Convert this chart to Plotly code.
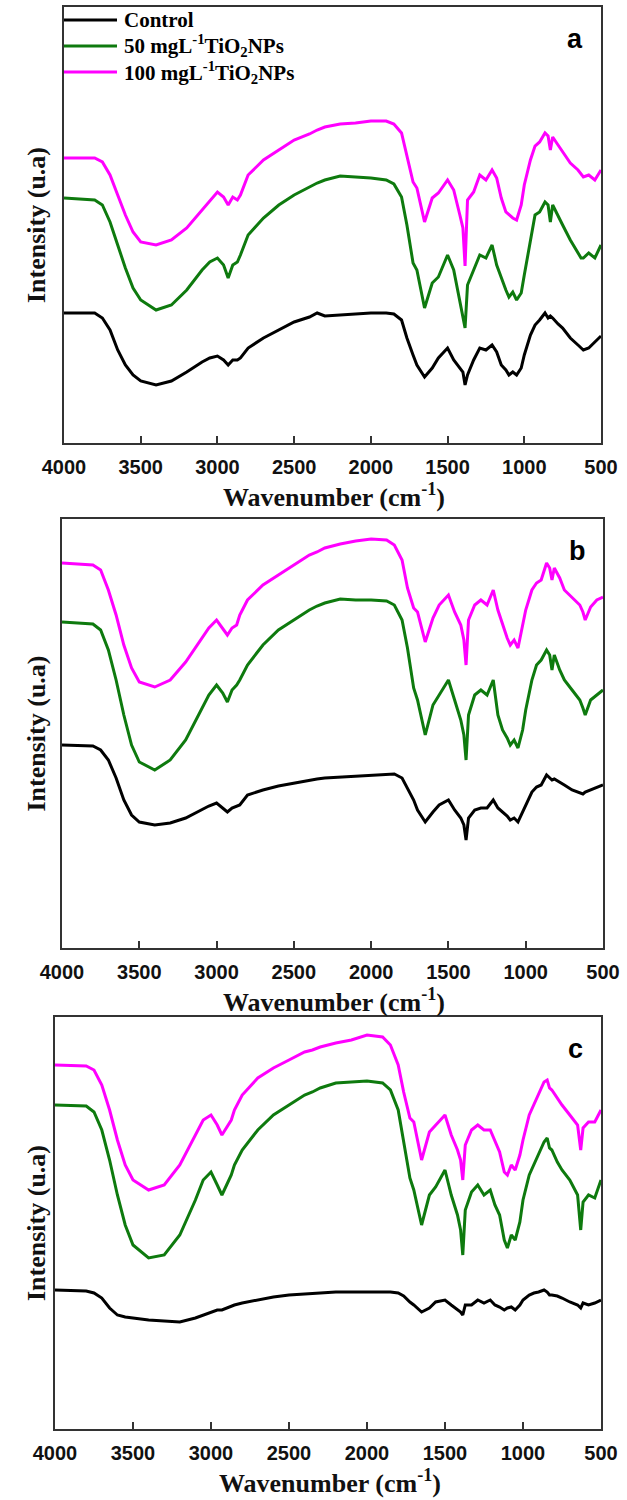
import plotly.graph_objects as go

# ---------------- data (wavenumber grid shared by all spectra) ----------------
wavenumber = [4000, 3800, 3750, 3700, 3650, 3600, 3550, 3500, 3400, 3300,
              3200, 3100, 3050, 3000, 2960, 2930, 2900, 2870, 2850, 2800,
              2700, 2600, 2500, 2400, 2350, 2300, 2200, 2100, 2000, 1900,
              1850, 1800, 1765, 1725, 1700, 1650, 1600, 1560, 1500, 1460,
              1420, 1400, 1386, 1370, 1330, 1290, 1250, 1210, 1180, 1150,
              1120, 1100, 1075, 1050, 1020, 1000, 960, 930, 900, 865,
              845, 830, 815, 780, 750, 700, 650, 630, 615, 580,
              540, 500]

# panel a
a_100 = [285, 285, 281, 268, 248, 228, 211, 201, 198, 203,
         215, 233, 243, 251, 246, 238, 246, 243, 248, 268,
         283, 293, 303, 309, 313, 316, 319, 320, 322, 322,
         319, 310, 288, 261, 255, 221, 245, 250, 263, 253,
         228, 215, 177, 243, 251, 268, 263, 273, 265, 245,
         231, 228, 225, 223, 238, 258, 283, 297, 301, 310,
         307, 293, 306, 298, 291, 280, 273, 269, 266, 268,
         263, 273]
a_50 = [245, 243, 238, 221, 198, 175, 155, 143, 133, 138,
        153, 173, 181, 185, 178, 165, 178, 181, 188, 208,
        225, 238, 248, 256, 260, 263, 267, 266, 265, 263,
        259, 246, 218, 180, 173, 135, 160, 166, 188, 173,
        143, 128, 115, 158, 173, 188, 185, 198, 178, 165,
        153, 146, 151, 143, 150, 168, 203, 228, 231, 241,
        238, 221, 238, 228, 218, 203, 191, 185, 185, 190,
        185, 198]
a_control = [130, 130, 125, 113, 93, 78, 68, 62, 58, 62,
             71, 81, 85, 87, 83, 78, 83, 83, 85, 95,
             105, 113, 121, 126, 130, 127, 128, 129, 130, 130,
             129, 123, 105, 88, 78, 66, 75, 85, 95, 83,
             75, 71, 58, 68, 83, 95, 93, 98, 91, 78,
             73, 68, 71, 68, 75, 88, 108, 118, 123, 130,
             125, 127, 125, 119, 115, 105, 98, 95, 93, 95,
             101, 107]

# panel b
b_100 = [385, 383, 378, 358, 333, 303, 280, 266, 261, 268,
         286, 308, 320, 328, 320, 313, 320, 323, 333, 348,
         363, 373, 383, 393, 396, 400, 404, 407, 409, 408,
         403, 388, 360, 340, 336, 306, 330, 343, 353, 336,
         323, 308, 283, 328, 343, 348, 343, 358, 338, 323,
         310, 303, 308, 300, 323, 338, 358, 365, 368, 385,
         380, 368, 380, 370, 358, 350, 343, 336, 328, 341,
         348, 351]
b_50 = [326, 324, 318, 298, 268, 233, 203, 186, 178, 188,
        208, 238, 253, 263, 255, 246, 258, 263, 268, 283,
        303, 318, 328, 338, 342, 345, 349, 348, 348, 347,
        343, 328, 300, 260, 248, 213, 243, 253, 268, 248,
        228, 213, 188, 233, 253, 258, 253, 268, 233, 218,
        210, 203, 208, 200, 218, 238, 268, 283, 288, 298,
        293, 278, 293, 278, 268, 258, 248, 240, 233, 248,
        253, 258]
b_control = [203, 202, 198, 188, 170, 148, 133, 126, 123, 125,
             130, 138, 142, 145, 140, 136, 140, 142, 143, 153,
             158, 162, 165, 168, 169, 170, 171, 172, 173, 174,
             174, 170, 160, 148, 138, 126, 136, 143, 148, 138,
             130, 123, 108, 130, 138, 140, 140, 148, 140, 136,
             132, 128, 130, 126, 136, 143, 156, 161, 163, 173,
             170, 168, 169, 166, 163, 158, 155, 154, 156, 158,
             160, 163]

# panel c
c_100 = [364, 363, 359, 344, 319, 289, 264, 249, 239, 244,
         264, 294, 309, 314, 304, 294, 301, 309, 319, 334,
         351, 361, 369, 377, 379, 382, 386, 389, 394, 392,
         384, 364, 337, 311, 307, 269, 297, 304, 314, 294,
         279, 269, 249, 284, 299, 304, 299, 299, 287, 277,
         257, 254, 264, 259, 274, 289, 314, 324, 334, 347,
         349, 341, 339, 331, 324, 314, 304, 279, 301, 307,
         307, 319]
c_50 = [324, 323, 317, 299, 269, 234, 204, 184, 171, 174,
        194, 229, 249, 257, 244, 234, 244, 254, 264, 279,
        299, 314, 324, 334, 337, 341, 346, 347, 348, 346,
        339, 319, 287, 251, 239, 204, 234, 242, 259, 234,
        214, 199, 174, 219, 237, 244, 234, 239, 224, 214,
        189, 181, 194, 189, 207, 229, 254, 264, 274, 287,
        291, 281, 279, 267, 259, 249, 234, 199, 227, 234,
        231, 249]
c_control = [139, 138, 136, 131, 121, 114, 112, 111, 109, 108,
             107, 111, 114, 117, 119, 119, 121, 123, 124, 126,
             129, 132, 134, 135, 136, 136, 137, 137, 137, 137,
             137, 136, 133, 127, 124, 117, 121, 127, 129, 124,
             119, 117, 114, 124, 124, 129, 126, 129, 124, 122,
             119, 121, 122, 119, 124, 129, 134, 136, 137, 139,
             137, 134, 134, 133, 131, 127, 124, 121, 126, 124,
             126, 129]

series_names = ["Control", "50 mgL<sup>-1</sup>TiO<sub>2</sub>NPs",
                "100 mgL<sup>-1</sup>TiO<sub>2</sub>NPs"]
x_tick_values = [4000, 3500, 3000, 2500, 2000, 1500, 1000, 500]
x_tick_labels = ["4000", "3500", "3000", "2500", "2000", "1500", "1000", "500"]
panel_labels = ["a", "b", "c"]

for arr in [a_100, a_50, a_control, b_100, b_50, b_control, c_100, c_50, c_control]:
    if len(arr) != len(wavenumber):
        raise ValueError("length mismatch %d vs %d" % (len(arr), len(wavenumber)))

# ---------------- layout helpers ----------------
W, H = 627, 1500
colors = ["#000000", "#0e7a0e", "#ff00ff"]
# pixel boxes of each plotting frame: (left, right, top, bottom)
frames = [(64, 601, 7, 443), (62, 603, 519, 948), (55, 601, 1017, 1429)]
panel_series = [(a_control, a_50, a_100), (b_control, b_50, b_100), (c_control, c_50, c_100)]


def px(x):
    return x / W


def py(y):
    return 1 - y / H


fig = go.Figure()
layout = dict(width=W, height=H, margin=dict(l=0, r=0, t=0, b=0, autoexpand=False),
              paper_bgcolor="white", plot_bgcolor="white", showlegend=False)
annotations = []
shapes = []

for i, ((l, r, t, b), sers) in enumerate(zip(frames, panel_series)):
    xa = "x" if i == 0 else "x%d" % (i + 1)
    ya = "y" if i == 0 else "y%d" % (i + 1)
    for s, c, name in zip(sers, colors, series_names):
        fig.add_trace(go.Scatter(x=wavenumber, y=s, mode="lines", name=name,
                                 line=dict(color=c, width=3), xaxis=xa, yaxis=ya,
                                 showlegend=False))
    xkey = "xaxis" if i == 0 else "xaxis%d" % (i + 1)
    ykey = "yaxis" if i == 0 else "yaxis%d" % (i + 1)
    layout[xkey] = dict(domain=[px(l), px(r)], anchor=ya, range=[4000, 500],
                        automargin=False,
                        tickmode="array", tickvals=x_tick_values, ticktext=x_tick_labels,
                        ticks="inside", ticklen=7, tickwidth=1.5, tickcolor="#333",
                        showline=True, linecolor="#333", linewidth=2, mirror=True,
                        showgrid=False, zeroline=False, ticklabelstandoff=5,
                        tickfont=dict(family="Liberation Sans, Arial", size=20,
                                      color="#111", weight="bold"))
    layout[ykey] = dict(domain=[py(b), py(t)], anchor=xa, range=[0, b - t],
                        automargin=False,
                        showticklabels=False, ticks="", showline=True, linecolor="#333",
                        linewidth=2, mirror=True, showgrid=False, zeroline=False)
    # x title
    annotations.append(dict(x=px((l + r) / 2 + 2), y=py(b + 52), xref="paper", yref="paper",
                            text="Wavenumber (cm<sup>-1</sup>)", showarrow=False,
                            xanchor="center", yanchor="middle",
                            font=dict(family="Liberation Serif, Times New Roman", size=26,
                                      color="#111", weight="bold")))
    # y title
    annotations.append(dict(x=px(36), y=py((t + b) / 2), xref="paper", yref="paper",
                            text="Intensity (u.a)", showarrow=False, textangle=-90,
                            xanchor="center", yanchor="middle",
                            font=dict(family="Liberation Serif, Times New Roman", size=26,
                                      color="#111", weight="bold")))
    # panel letter
    annotations.append(dict(x=px(r - 26), y=py(t + 32), xref="paper", yref="paper",
                            text=panel_labels[i], showarrow=False,
                            xanchor="center", yanchor="middle",
                            font=dict(family="Liberation Sans, Arial", size=27,
                                      color="#000", weight="bold")))

# legend (panel a)
legend_rows = [20, 46, 72]
for yrow, c, name in zip(legend_rows, colors, series_names):
    shapes.append(dict(type="line", xref="paper", yref="paper",
                       x0=px(64), x1=px(117), y0=py(yrow), y1=py(yrow),
                       line=dict(color=c, width=3)))
    annotations.append(dict(x=px(122), y=py(yrow), xref="paper", yref="paper",
                            text=name, showarrow=False, xanchor="left", yanchor="middle",
                            font=dict(family="Liberation Serif, Times New Roman", size=21,
                                      color="#000", weight="bold")))

layout["annotations"] = annotations
layout["shapes"] = shapes
fig.update_layout(**layout)
fig.write_html("out.html")
